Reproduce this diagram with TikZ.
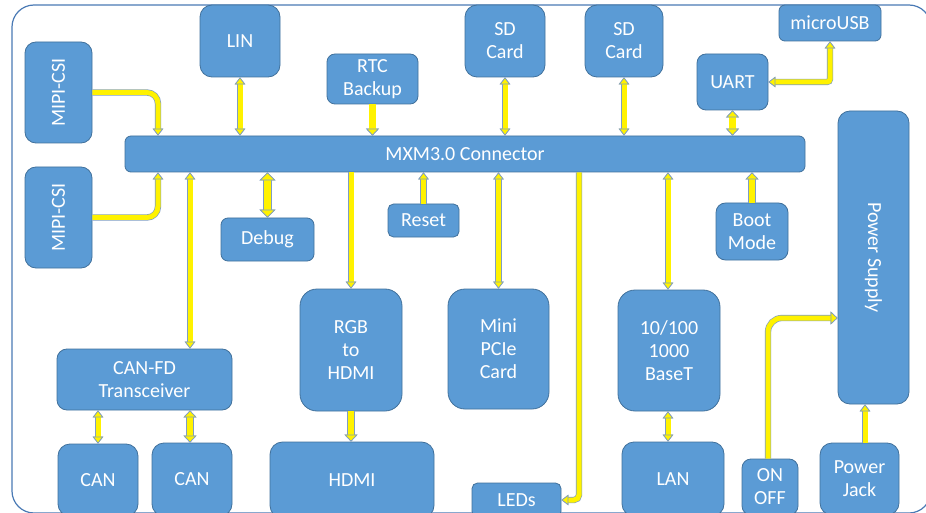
\documentclass[tikz,border=0pt]{standalone}
\usepackage{fontspec}
\setmainfont{Carlito}
\usetikzlibrary{arrows.meta}
\definecolor{boxfill}{HTML}{5B9BD5}
\definecolor{boxline}{HTML}{41719C}
\definecolor{framec}{HTML}{4A7AB5}
\definecolor{aout}{HTML}{7F9DC4}
\begin{document}
\begin{tikzpicture}[x=1pt,y=-1pt,
  blk/.style={draw=boxline, fill=boxfill, line width=0.8pt, text=white, align=center,
    font=\fontsize{20}{23}\selectfont, inner sep=0pt},
  ytip/.tip={Triangle[width=10.5pt,length=7pt,fill=yellow,color=aout,line width=0.7pt]},
  ytipM/.tip={Triangle[width=13pt,length=7pt,fill=yellow,color=aout,line width=0.7pt]},
  ytipL/.tip={Triangle[width=16pt,length=8pt,fill=yellow,color=aout,line width=0.7pt]},
  yS/.style={draw=yellow, line width=5pt, preaction={draw=aout, line width=6.3pt}},
  yM/.style={draw=yellow, line width=6.2pt, preaction={draw=aout, line width=7.5pt}},
  yL/.style={draw=yellow, line width=7pt, preaction={draw=aout, line width=8.3pt}}]
\useasboundingbox (0,0) rectangle (926,513);
\clip (0,0) rectangle (926,513);
\fill[white] (0,0) rectangle (926,513);
\draw[framec, line width=1.2pt, rounded corners=22pt] (12,5) rectangle (931,513);

% boxes
\node[blk, minimum width=67pt, minimum height=101pt, rounded corners=11pt] (mipiA) at (58.5,92.5) {\rotatebox{90}{MIPI-CSI}};
\node[blk, minimum width=67pt, minimum height=101pt, rounded corners=11pt] (mipiB) at (58.5,217.5) {\rotatebox{90}{MIPI-CSI}};
\node[blk, minimum width=80pt, minimum height=72pt, rounded corners=12pt] (lin) at (240,41) {LIN};
\node[blk, minimum width=91pt, minimum height=50pt, rounded corners=8pt] (rtc) at (372.5,79) {RTC\\Backup};
\node[blk, minimum width=80pt, minimum height=72pt, rounded corners=12pt] (sdA) at (505,41) {SD\\Card};
\node[blk, minimum width=78pt, minimum height=72pt, rounded corners=12pt] (sdB) at (624,41) {SD\\Card};
\node[blk, minimum width=71pt, minimum height=56pt, rounded corners=9pt] (uart) at (732.5,82) {UART};
\node[blk, minimum width=102pt, minimum height=36pt, rounded corners=6pt] (usb) at (830,23) {microUSB};
\node[blk, minimum width=680pt, minimum height=36pt, rounded corners=6pt] (mxm) at (465,154) {MXM3.0 Connector};
\node[blk, minimum width=71pt, minimum height=293pt, rounded corners=12pt] (psu) at (873.5,257.5) {\rotatebox{-90}{Power Supply}};
\node[blk, minimum width=93pt, minimum height=43pt, rounded corners=7pt] (debug) at (267.5,239.5) {Debug};
\node[blk, minimum width=71pt, minimum height=33pt, rounded corners=5.5pt] (reset) at (423.5,220.5) {Reset};
\node[blk, minimum width=72pt, minimum height=57pt, rounded corners=9.5pt] (boot) at (752,231.5) {Boot\\Mode};
\node[blk, minimum width=102pt, minimum height=122pt, rounded corners=17pt] (rgb) at (351,350) {RGB\\to\\HDMI};
\node[blk, minimum width=101pt, minimum height=120pt, rounded corners=17pt] (pcie) at (498.5,349) {Mini\\PCIe\\Card};
\node[blk, minimum width=102pt, minimum height=121pt, rounded corners=17pt] (eth) at (669,350.5) {10/100\\1000\\BaseT};
\node[blk, minimum width=175pt, minimum height=61pt, rounded corners=10pt] (canfd) at (144.5,379.5) {CAN-FD\\Transceiver};
\node[blk, minimum width=80pt, minimum height=72pt, rounded corners=12pt] (canA) at (98,480) {CAN};
\node[blk, minimum width=80pt, minimum height=73pt, rounded corners=12pt] (canB) at (192,479.5) {CAN};
\node[blk, minimum width=164pt, minimum height=76pt, rounded corners=12.5pt] (hdmi) at (352,480) {HDMI};
\node[blk, minimum width=89pt, minimum height=34pt, rounded corners=5.5pt] (leds) at (516.5,500) {LEDs};
\node[blk, minimum width=102pt, minimum height=74pt, rounded corners=12pt] (lan) at (673,479) {LAN};
\node[blk, minimum width=56pt, minimum height=56pt, rounded corners=9pt] (onoff) at (770,487) {ON\\OFF};
\node[blk, minimum width=79pt, minimum height=72pt, rounded corners=12pt] (jack) at (859.5,479) {Power\\Jack};

% arrows
\draw[yS, rounded corners=11pt, arrows={-ytip}] (mipiA.east) -| (158,0 |- mxm.north);
\draw[yS, rounded corners=11pt, arrows={-ytip}] (mipiB.east) -| (158,0 |- mxm.south);
\draw[yS, arrows={ytip-ytip}] (lin.south) -- (lin.south |- mxm.north);
\draw[yM, arrows={-ytipM}] (rtc.south) -- (rtc.south |- mxm.north);
\draw[yS, arrows={ytip-ytip}] (sdA.south) -- (sdA.south |- mxm.north);
\draw[yS, arrows={ytip-ytip}] (sdB.south) -- (sdB.south |- mxm.north);
\draw[yM, arrows={ytipM-ytipM}] (uart.south) -- (uart.south |- mxm.north);
\draw[yS, rounded corners=3pt, arrows={ytip-ytip}] (uart.east) -| (usb.south);
\draw[yS, arrows={ytip-ytip}] (190,0 |- mxm.south) -- (190,0 |- canfd.north);
\draw[yL, arrows={ytipL-ytipL}] (debug.north |- mxm.south) -- (debug.north);
\draw[yS, arrows={-ytip}] (rgb.north |- mxm.south) -- (rgb.north);
\draw[yS, arrows={-ytip}] (reset.north) -- (reset.north |- mxm.south);
\draw[yS, arrows={ytip-ytip}] (pcie.north |- mxm.south) -- (pcie.north);
\draw[yS, rounded corners=5pt, arrows={-ytip}] (579,0 |- mxm.south) |- (leds.east);
\draw[yS, arrows={ytip-ytip}] (668,0 |- mxm.south) -- (668,0 |- eth.north);
\draw[yM, arrows={-ytipM}] (boot.north) -- (boot.north |- mxm.south);
\draw[yS, rounded corners=14pt, arrows={-ytipM}] (768,0 |- onoff.north) |- (psu.west |- 0,318);
\draw[yS, arrows={-ytip}] (865,0 |- jack.north) -- (865,0 |- psu.south);
\draw[yM, arrows={-ytipM}] (rgb.south) -- (rgb.south |- hdmi.north);
\draw[yS, arrows={ytip-ytip}] (canA.north) -- (canA.north |- canfd.south);
\draw[yM, arrows={ytipM-ytipM}] (190,0 |- canfd.south) -- (190,0 |- canB.north);
\draw[yS, arrows={ytip-ytip}] (668,0 |- eth.south) -- (668,0 |- lan.north);
\end{tikzpicture}
\end{document}
